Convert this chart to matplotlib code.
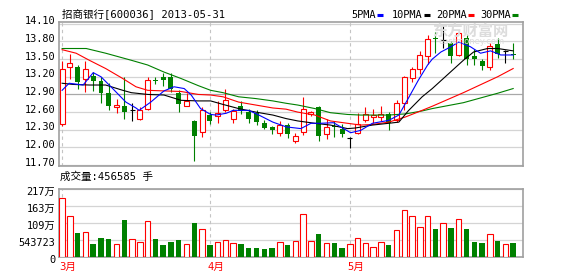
"""
K-line chart of 招商银行 (600036), Mar-May 2013, with MAs and volume.
"""

import matplotlib
matplotlib.use('Agg')
import matplotlib.pyplot as plt
from matplotlib.lines import Line2D
from matplotlib.transforms import ScaledTranslation
import numpy as np

# daily OHLC (59 trading days)
opens = [12.39, 13.37, 13.37, 13.16, 13.21, 13.13, 12.92, 12.68, 12.71, 12.63,
         12.49, 12.65, 13.14, 13.20, 13.19, 12.92, 12.71, 12.45, 12.26, 12.55,
         12.54, 12.63, 12.49, 12.71, 12.60, 12.58, 12.42, 12.34, 12.25, 12.38,
         12.11, 12.26, 12.56, 12.68, 12.22, 12.37, 12.32, 12.16, 12.24, 12.46,
         12.52, 12.52, 12.56, 12.46, 12.76, 13.18, 13.33, 13.56, 13.86, 13.83,
         13.77, 13.57, 13.85, 13.55, 13.47, 13.36, 13.75, 13.64, 13.58]
highs = [13.47, 13.58, 13.40, 13.47, 13.28, 13.20, 13.09, 12.83, 13.19, 12.75,
         12.68, 13.20, 13.20, 13.26, 13.27, 12.97, 12.93, 12.47, 12.69, 12.60,
         12.79, 12.99, 12.65, 12.79, 12.66, 12.64, 12.46, 12.36, 12.45, 12.42,
         12.24, 12.86, 12.62, 12.70, 12.48, 12.45, 12.40, 12.17, 12.58, 12.69,
         12.66, 12.70, 12.60, 12.80, 13.22, 13.36, 13.63, 13.91, 13.96, 14.06,
         13.80, 13.96, 13.91, 13.68, 13.50, 13.77, 13.86, 13.65, 13.78]
lows = [12.37, 13.16, 13.00, 12.94, 12.96, 12.76, 12.63, 12.58, 12.49, 12.45,
        12.47, 12.63, 13.07, 13.05, 12.94, 12.60, 12.70, 11.77, 12.18, 12.39,
        12.42, 12.60, 12.42, 12.56, 12.42, 12.38, 12.31, 12.23, 12.20, 12.16,
        12.08, 12.21, 12.53, 12.11, 12.15, 12.17, 12.18, 11.99, 12.22, 12.44,
        12.42, 12.45, 12.29, 12.44, 12.63, 13.11, 13.24, 13.41, 13.60, 13.69,
        13.44, 13.55, 13.40, 13.40, 13.31, 13.31, 13.52, 13.44, 13.50]
closes = [13.34, 13.43, 13.11, 13.33, 13.13, 12.93, 12.71, 12.72, 12.60, 12.63,
          12.63, 13.14, 13.12, 13.14, 13.00, 12.73, 12.79, 12.20, 12.63, 12.45,
          12.59, 12.80, 12.62, 12.62, 12.49, 12.43, 12.33, 12.30, 12.38, 12.22,
          12.20, 12.65, 12.60, 12.20, 12.34, 12.35, 12.22, 12.16, 12.39, 12.56,
          12.55, 12.56, 12.41, 12.76, 13.19, 13.33, 13.57, 13.84, 13.84, 13.83,
          13.56, 13.94, 13.51, 13.50, 13.39, 13.73, 13.58, 13.64, 13.57]
volumes = [1887000, 1321000, 768000, 800000, 425000, 608000, 585000, 416000, 1193000, 576000,
           480000, 1161000, 585000, 393000, 489000, 553000, 416000, 1097000, 905000, 393000,
           480000, 544000, 448000, 425000, 307000, 307000, 275000, 307000, 480000, 393000,
           521000, 1385000, 521000, 745000, 448000, 448000, 307000, 425000, 608000, 448000,
           320000, 480000, 393000, 873000, 1503000, 1321000, 960000, 1321000, 905000, 1087000,
           937000, 1215000, 905000, 489000, 457000, 736000, 521000, 425000, 456585]

# moving averages (trading-day index, value)
ma5_days = [0, 0.9, 2.7, 4, 5, 6.5, 8.2, 9.5, 9.9, 11.4, 13.1, 14.4, 15.7, 16.6, 17.8,
            19.1, 19.8, 21.1, 22, 24, 25.3, 27.1, 28.8, 29.4, 30.7, 32, 33.2, 34.9, 36.2,
            37.1, 38.4, 39.9, 42, 43.3, 44.5, 45.8, 47, 47.6, 48.7, 50, 51, 52.5, 53.8,
            55.1, 56.4, 58]
ma5_vals = [12.97, 13.09, 13.06, 13.27, 13.20, 13.00, 12.77, 12.67, 12.63, 12.77, 12.96,
            13.03, 13.00, 12.89, 12.66, 12.56, 12.55, 12.58, 12.63, 12.63, 12.55, 12.43,
            12.35, 12.34, 12.32, 12.41, 12.41, 12.42, 12.32, 12.25, 12.29, 12.41, 12.46,
            12.55, 12.83, 13.14, 13.40, 13.50, 13.62, 13.71, 13.79, 13.71, 13.60, 13.64,
            13.57, 13.57]
ma10_days = [0, 1.4, 3.5, 5.6, 7.8, 8.9, 11, 13.1, 15.3, 17.5, 19.1, 20.7, 22.7, 24.9,
             27.1, 28.8, 30.3, 32.5, 34.5, 36.7, 37.7, 39.9, 42, 43.3, 44.5, 46.3, 47.6,
             49.6, 51.6, 52.9, 54.7, 56, 58]
ma10_vals = [13.09, 13.07, 13.06, 13.06, 12.97, 12.93, 12.90, 12.89, 12.80, 12.79, 12.79,
             12.73, 12.66, 12.60, 12.55, 12.49, 12.45, 12.41, 12.38, 12.32, 12.33, 12.38,
             12.41, 12.43, 12.62, 12.86, 13.00, 13.24, 13.48, 13.62, 13.68, 13.68, 13.64]
ma20_days = [0, 1.8, 3.5, 5.6, 7.8, 9.5, 11, 13.1, 15.3, 17.5, 19.1, 20.7, 22.7, 24.9,
             27.1, 28.8, 30.3, 32.5, 34.5, 36.7, 38.4, 39.9, 42, 44.2, 46.3, 47.6, 51.6,
             56, 58]
ma20_vals = [13.66, 13.60, 13.48, 13.34, 13.17, 13.03, 12.97, 12.96, 12.95, 12.90, 12.89,
             12.86, 12.77, 12.72, 12.67, 12.65, 12.60, 12.55, 12.45, 12.41, 12.38, 12.39,
             12.43, 12.52, 12.63, 12.70, 12.93, 13.20, 13.34]
ma30_days = [0, 3.1, 5.6, 7.8, 8.9, 11, 13.1, 15.3, 17.5, 19.1, 20.7, 22.7, 24.9, 27.1,
             28.8, 30.3, 32.5, 34.5, 36.7, 38.4, 42, 44.2, 46.3, 47.6, 51.6, 56, 58]
ma30_vals = [13.68, 13.68, 13.60, 13.52, 13.48, 13.40, 13.28, 13.17, 13.05, 12.97, 12.93,
             12.86, 12.83, 12.79, 12.75, 12.72, 12.66, 12.59, 12.56, 12.55, 12.55, 12.57,
             12.62, 12.66, 12.76, 12.92, 13.00]

price_ticks = [11.70, 12.00, 12.30, 12.60, 12.90, 13.20, 13.50, 13.80, 14.10]
vol_ticks = [0, 543723, 1087446, 1631169, 2174892]
vol_labels = ['0', '543723', '109万', '163万', '217万']
month_starts = [0, 19, 37]
month_labels = ['3月', '4月', '5月']
ma_names = ['5PMA', '10PMA', '20PMA', '30PMA']

RED = '#ff0000'
GREEN = '#008000'
BLUE = '#0000ff'
GRID = '#d4d4d4'
BORDER = '#a0a0a0'
MONO = ['DejaVu Sans Mono', 'Noto Sans CJK SC']

W, H = 578, 276
fig = plt.figure(figsize=(W / 100, H / 100), dpi=100)


def px_box(left, top, right, bottom):
    return [left / W, 1 - bottom / H, (right - left) / W, (bottom - top) / H]


def px(dx, dy):
    # offset in pixels
    return ScaledTranslation(dx / 100, dy / 100, fig.dpi_scale_trans)


ax = fig.add_axes(px_box(59, 22, 522.5, 165.7))
axv = fig.add_axes(px_box(59, 189.3, 522.5, 257.3))

x = np.arange(len(closes))
o, h, l, c = map(np.array, (opens, highs, lows, closes))
v = np.array(volumes)
up = c > o
down = c < o
flat = c == o
bw = 0.64

for a in (ax, axv):
    a.set_xlim(-0.4, 59.2)
    a.set_xticks([])
    a.set_yticks([])
    for s in a.spines.values():
        s.set_color(BORDER)
        s.set_linewidth(1.2)
    for m in month_starts:
        a.axvline(m, color='#c4c4c4', lw=0.8, ls=(0, (3, 3)), zorder=1)

# price panel
ax.set_ylim(11.69, 14.13)
for t in price_ticks:
    ax.axhline(t, color='#a8a8a8' if t == 12.90 else GRID, lw=0.9, zorder=0)
    ax.text(0, t, f'{t:.2f}', transform=ax.get_yaxis_transform() + px(-4, 2.5),
            ha='right', va='center', fontsize=7.4, family=MONO)

ax.bar(x[up], (c - o)[up], bottom=o[up], width=bw, facecolor='white',
       edgecolor=RED, linewidth=0.8, zorder=3)
ax.vlines(x[up], c[up], h[up], color=RED, lw=0.8, zorder=3)
ax.vlines(x[up], l[up], o[up], color=RED, lw=0.8, zorder=3)
ax.vlines(x[down], l[down], h[down], color=GREEN, lw=0.8, zorder=3)
ax.bar(x[down], (o - c)[down], bottom=c[down], width=bw, color=GREEN, zorder=3)
ax.vlines(x[flat], l[flat], h[flat], color='black', lw=0.8, zorder=3)
ax.hlines(c[flat], x[flat] - bw / 2, x[flat] + bw / 2, color='black', lw=0.8, zorder=3)

ax.plot(ma30_days, ma30_vals, color=GREEN, lw=0.8, zorder=4)
ax.plot(ma20_days, ma20_vals, color=RED, lw=0.8, zorder=4)
ax.plot(ma10_days, ma10_vals, color='black', lw=0.8, zorder=4)
ax.plot(ma5_days, ma5_vals, color=BLUE, lw=0.8, zorder=4)

# watermark
fig.text(470 / W, 1 - 31 / H, '东方财富网', ha='center', va='center', fontsize=11,
         fontweight='bold', color='#dcdcdc', family='Noto Sans CJK SC', zorder=0)
fig.text(472 / W, 1 - 42 / H, 'eastmoney.com', ha='center', va='center', fontsize=6,
         color='#dcdcdc', family='DejaVu Sans', zorder=0)

# title and legend
fig.text(62 / W, 1 - 14 / H, '招商银行[600036] 2013-05-31', ha='left', va='center',
         fontsize=7.6, family=MONO)
legend_x = [351, 392, 436, 480]
ma_colors = [BLUE, 'black', RED, GREEN]
for name, lx, col in zip(ma_names, legend_x, ma_colors):
    fig.text(lx / W, 1 - 14.5 / H, name, ha='left', va='center', fontsize=7.4, family=MONO)
    x0 = lx + 6 * len(name) + 1.5
    fig.add_artist(Line2D([x0 / W, (x0 + 6.5) / W], [1 - 14.5 / H] * 2, color=col,
                          lw=2.2, solid_capstyle='butt', transform=fig.transFigure))

# volume panel
axv.set_ylim(0, vol_ticks[-1])
for t, lab in zip(vol_ticks, vol_labels):
    axv.axhline(t, color=GRID, lw=0.9, zorder=0)
    axv.text(0, t, lab, transform=axv.get_yaxis_transform() + px(-4, -2.5),
             ha='right', va='center', fontsize=7.4, family=MONO)
vup = c >= o
axv.bar(x[vup], v[vup], width=0.7, facecolor='white', edgecolor=RED, linewidth=0.8, zorder=3)
axv.bar(x[~vup], v[~vup], width=0.7, color=GREEN, zorder=3)

fig.text(60 / W, 1 - 176.5 / H, f'成交量:{volumes[-1]} 手', ha='left', va='center',
         fontsize=7.6, family=MONO)
for m, lab in zip(month_starts, month_labels):
    axv.text(m - 0.35, 0, lab, transform=axv.get_xaxis_transform() + px(0, -9.5),
             ha='left', va='center', fontsize=7.6, color=RED, family=MONO)

fig.savefig('out.png', dpi=100)
